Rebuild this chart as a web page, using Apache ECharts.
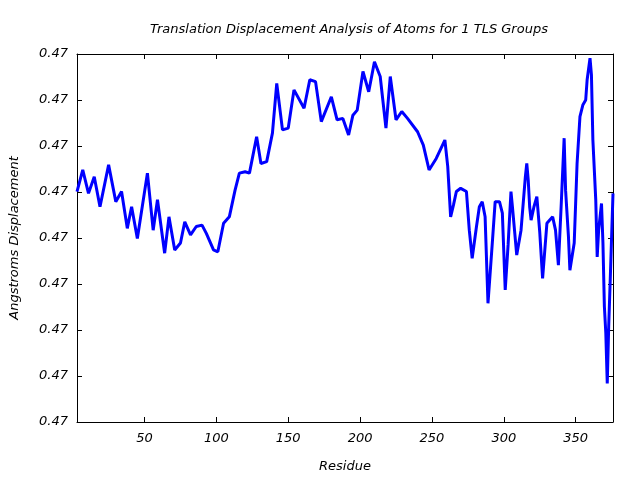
<!DOCTYPE html>
<html>
<head>
<meta charset="utf-8">
<script src="https://cdn.jsdelivr.net/npm/echarts@6/dist/echarts.min.js"></script>
<style>html,body{margin:0;padding:0;background:#fff}#c{width:640px;height:480px}</style>
</head>
<body>
<div id="c"></div>
<script>
var chartTitle = 'Translation Displacement Analysis of Atoms for 1 TLS Groups';
var xName = 'Residue';
var yName = 'Angstroms Displacement';
var xTicks = [50, 100, 150, 200, 250, 300, 350];
var xMin = 3, xMax = 376;
var yMin = 0.4700, yMax = 0.4708, yStep = 0.0001;

var residues = [3,7,11,15,19,25,30,34,38,41,45,52,56,59,64,67,71,75,78,82,86,90,93,98,101,105,109,113,116,120,123,128,131,135,139,142,146,150,154,161,165,169,173,180,184,188,192,195,198,202,206,210,214,218,221,225,229,233,240,244,248,253,259,261,263,265,267,270,274,276,278,281,283,285,287,289,292,294,297,299,301,303,305,306,309,312,315,316,317,318,319,321,323,325,327,328,330,334,336,338,340,342,343,345,346,349,350,351,353,355,357,358,360,361,362,364,365,366,368,369,370,371,372,373,374,376];
var displacement = [0.470501,0.470548,0.470497,0.470533,0.470468,0.470559,0.470479,0.470501,0.470421,0.470468,0.470399,0.470541,0.470417,0.470483,0.470367,0.470446,0.470374,0.470389,0.470435,0.470407,0.470425,0.470428,0.470410,0.470374,0.470370,0.470432,0.470446,0.470504,0.470541,0.470544,0.470541,0.470620,0.470562,0.470566,0.470628,0.470736,0.470635,0.470639,0.470722,0.470682,0.470744,0.470740,0.470653,0.470707,0.470657,0.470660,0.470624,0.470667,0.470678,0.470762,0.470718,0.470783,0.470751,0.470639,0.470751,0.470657,0.470675,0.470660,0.470631,0.470602,0.470548,0.470573,0.470613,0.470555,0.470446,0.470472,0.470501,0.470508,0.470501,0.470417,0.470356,0.470425,0.470468,0.470479,0.470446,0.470258,0.470389,0.470479,0.470479,0.470454,0.470287,0.470385,0.470501,0.470468,0.470363,0.470417,0.470533,0.470562,0.470526,0.470468,0.470439,0.470468,0.470490,0.470414,0.470312,0.470352,0.470432,0.470446,0.470417,0.470341,0.470475,0.470617,0.470504,0.470403,0.470330,0.470389,0.470475,0.470562,0.470664,0.470689,0.470700,0.470744,0.470791,0.470754,0.470613,0.470483,0.470359,0.470417,0.470475,0.470389,0.470251,0.470193,0.470084,0.470207,0.470302,0.470497];

var seriesData = residues.map(function (r, i) { return [r, displacement[i]]; });
var font = 'DejaVu Sans';
var txt = {fontFamily: font, fontStyle: 'italic', color: '#000', fontSize: 13};
var lineStyle = {color: '#000', width: 1};

var chart = echarts.init(document.getElementById('c'), null, {renderer: 'canvas'});
chart.setOption({
  animation: false,
  backgroundColor: '#fff',
  title: {
    text: chartTitle, left: 344, top: 18, textAlign: 'center',
    textStyle: {fontFamily: font, fontStyle: 'italic', fontWeight: 'normal', fontSize: 13, color: '#000'}
  },
  grid: {left: 76, right: 27, top: 54, bottom: 58, containLabel: false},
  xAxis: [{
    type: 'value', min: xMin, max: xMax, position: 'bottom',
    name: xName, nameLocation: 'middle', nameGap: 38,
    nameTextStyle: txt,
    axisLine: {show: true, lineStyle: lineStyle},
    axisTick: {show: true, inside: true, length: 5, lineStyle: lineStyle, customValues: xTicks},
    axisLabel: Object.assign({margin: 10, customValues: xTicks}, txt),
    splitLine: {show: false}
  }, {
    type: 'value', min: xMin, max: xMax, position: 'top',
    axisLine: {show: true, lineStyle: lineStyle},
    axisTick: {show: true, inside: true, length: 5, lineStyle: lineStyle, customValues: xTicks},
    axisLabel: {show: false},
    splitLine: {show: false}
  }],
  yAxis: [{
    type: 'value', min: yMin, max: yMax, interval: yStep, position: 'left',
    name: yName, nameLocation: 'middle', nameGap: 56, nameRotate: 90,
    nameTextStyle: txt,
    axisLine: {show: true, lineStyle: lineStyle},
    axisTick: {show: true, inside: true, length: 5, lineStyle: lineStyle},
    axisLabel: Object.assign({margin: 9, formatter: function (v) { return v.toFixed(2); }}, txt),
    splitLine: {show: false}
  }, {
    type: 'value', min: yMin, max: yMax, interval: yStep, position: 'right',
    axisLine: {show: true, lineStyle: lineStyle},
    axisTick: {show: true, inside: true, length: 5, lineStyle: lineStyle},
    axisLabel: {show: false},
    splitLine: {show: false}
  }],
  series: [{
    type: 'line', xAxisIndex: 0, yAxisIndex: 0,
    data: seriesData, showSymbol: false, symbol: 'none',
    lineStyle: {color: '#0000ff', width: 3},
    clip: true
  }]
});
</script>
</body>
</html>
